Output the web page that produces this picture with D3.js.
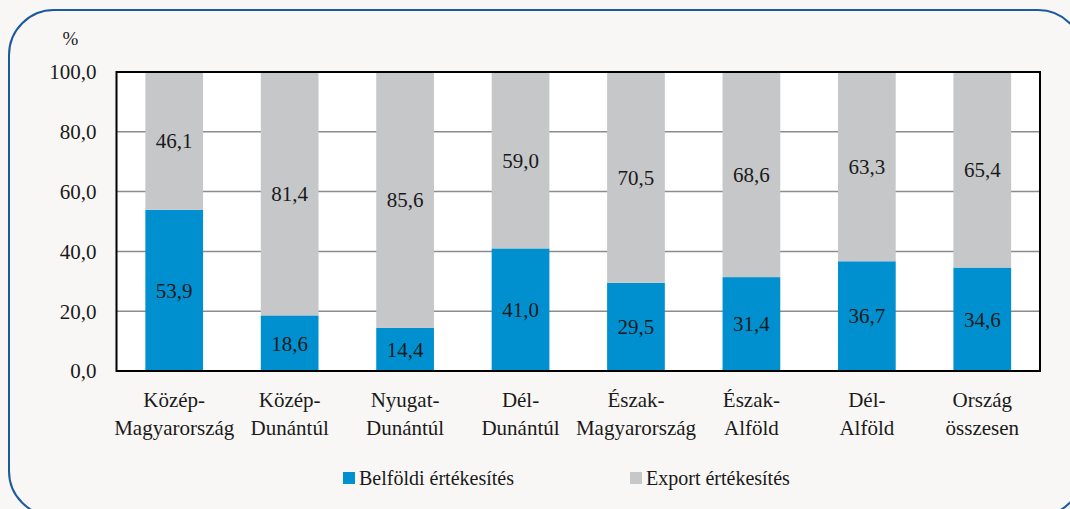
<!DOCTYPE html>
<html>
<head>
<meta charset="utf-8">
<script src="https://cdn.jsdelivr.net/npm/d3@7"></script>
<style>
    body { margin: 0; background: #f8f7f5; }
    #chart svg, #chart svg text, #chart svg tspan { font-family: "Liberation Serif" !important; }
</style>
</head>
<body>
<div id="chart"></div>
<script>
// categories (two-line labels)
let regions = [
    ["Közép-", "Magyarország"],
    ["Közép-", "Dunántúl"],
    ["Nyugat-", "Dunántúl"],
    ["Dél-", "Dunántúl"],
    ["Észak-", "Magyarország"],
    ["Észak-", "Alföld"],
    ["Dél-", "Alföld"],
    ["Ország", "összesen"]
];
let domestic = [53.9, 18.6, 14.4, 41.0, 29.5, 31.4, 36.7, 34.6];
let exportShare = [46.1, 81.4, 85.6, 59.0, 70.5, 68.6, 63.3, 65.4];
let seriesNames = ["Belföldi értékesítés", "Export értékesítés"];
let seriesColors = ["#0090d0", "#c6c7c9"];
let yTicks = [0, 20, 40, 60, 80, 100];

let fmt = v => v.toFixed(1).replace(".", ",");
let serif = "Liberation Serif";

let width = 1070, height = 509;
let margin = {top: 72, right: 30, bottom: 138, left: 116.5};

let svg = d3.select("#chart").append("svg")
    .attr("width", width)
    .attr("height", height)
    .attr("font-family", serif);

// rounded frame
svg.append("rect")
    .attr("x", 9).attr("y", 10)
    .attr("width", 1074).attr("height", 506)
    .attr("rx", 45).attr("ry", 45)
    .attr("fill", "#f8f7f5")
    .attr("stroke", "#1d5a9c")
    .attr("stroke-width", 2);

let plotW = 1040 - margin.left;
let plotH = 371 - margin.top;

let g = svg.append("g")
    .attr("transform", `translate(${margin.left},${margin.top})`);

let x = d3.scaleBand()
    .domain(d3.range(regions.length))
    .range([0, plotW])
    .paddingInner(0.5)
    .paddingOuter(0.25);

let y = d3.scaleLinear()
    .domain([0, 100])
    .range([plotH, 0]);

// plot background
g.append("rect")
    .attr("width", plotW).attr("height", plotH)
    .attr("fill", "#ffffff");

// gridlines
g.selectAll(".grid")
    .data(yTicks.filter(t => t > 0 && t < 100))
    .enter().append("line")
    .attr("x1", 0).attr("x2", plotW)
    .attr("y1", d => y(d)).attr("y2", d => y(d))
    .attr("stroke", "#8c8c8c")
    .attr("stroke-width", 1.5);

// stacked data
let stacked = regions.map((r, i) => ({
    i: i,
    parts: [
        {s: 0, y0: 0, y1: domestic[i], v: domestic[i]},
        {s: 1, y0: domestic[i], y1: domestic[i] + exportShare[i], v: exportShare[i]}
    ]
}));

let groups = g.selectAll(".bar")
    .data(stacked)
    .enter().append("g")
    .attr("class", "bar")
    .attr("transform", d => `translate(${x(d.i)},0)`);

groups.selectAll("rect")
    .data(d => d.parts)
    .enter().append("rect")
    .attr("x", 0)
    .attr("width", x.bandwidth())
    .attr("y", d => y(d.y1))
    .attr("height", d => y(d.y0) - y(d.y1))
    .attr("fill", d => seriesColors[d.s]);

groups.selectAll("text")
    .data(d => d.parts)
    .enter().append("text")
    .attr("x", x.bandwidth() / 2)
    .attr("y", d => y((d.y0 + d.y1) / 2))
    .attr("dy", "0.35em")
    .attr("text-anchor", "middle")
    .attr("font-size", 21)
    .attr("fill", "#1a1a1a")
    .text(d => fmt(d.v));

// frame
g.append("rect")
    .attr("width", plotW).attr("height", plotH)
    .attr("fill", "none")
    .attr("stroke", "#000")
    .attr("stroke-width", 2);

// y labels
g.selectAll(".ytick")
    .data(yTicks)
    .enter().append("text")
    .attr("x", -20)
    .attr("y", d => y(d))
    .attr("dy", "0.35em")
    .attr("text-anchor", "end")
    .attr("font-size", 21)
    .attr("fill", "#1a1a1a")
    .text(d => fmt(d));

g.append("text")
    .attr("x", -46)
    .attr("y", -27)
    .attr("text-anchor", "middle")
    .attr("font-size", 19)
    .attr("fill", "#1a1a1a")
    .text("%");

// x labels
let xl = g.selectAll(".xlab")
    .data(regions)
    .enter().append("text")
    .attr("text-anchor", "middle")
    .attr("font-size", 21)
    .attr("fill", "#1a1a1a")
    .attr("transform", (d, i) => `translate(${x(i) + x.bandwidth() / 2},${plotH + 36})`);

xl.selectAll("tspan")
    .data(d => d)
    .enter().append("tspan")
    .attr("x", 0)
    .attr("dy", (d, i) => i === 0 ? 0 : 28)
    .text(d => d);

// legend
let legend = svg.append("g")
    .attr("transform", "translate(343,478)");

let leg = legend.selectAll(".leg")
    .data(seriesNames)
    .enter().append("g")
    .attr("transform", (d, i) => `translate(${i * 287},0)`);

leg.append("rect")
    .attr("x", 0).attr("y", -6)
    .attr("width", 12).attr("height", 12)
    .attr("fill", (d, i) => seriesColors[i]);

leg.append("text")
    .attr("x", 16)
    .attr("dy", "0.35em")
    .attr("font-size", 20)
    .attr("fill", "#1a1a1a")
    .text(d => d);
</script>
</body>
</html>
